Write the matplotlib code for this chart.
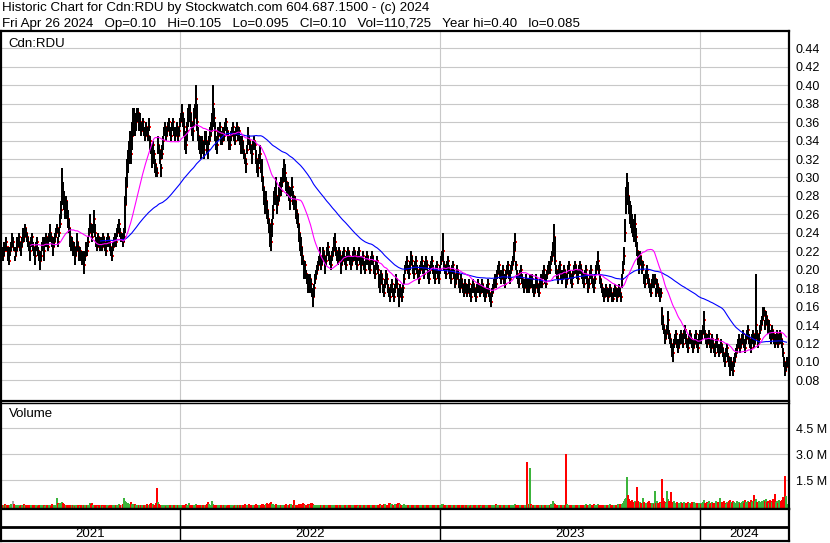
import numpy as np
import pandas as pd
import matplotlib.pyplot as plt

# daily bars, prices in 1/1000 $, volume in thousands of shares
high = [
    225, 220, 230, 225, 235, 225, 225, 215, 225, 230, 240, 235, 225, 215, 225, 235, 235, 240, 230, 230,
    235, 245, 240, 250, 245, 240, 235, 230, 225, 235, 240, 230, 225, 220, 230, 235, 225, 220, 215, 220,
    230, 235, 225, 235, 240, 235, 230, 240, 250, 240, 235, 230, 235, 240, 245, 250, 235, 245, 260, 275,
    310, 295, 285, 275, 280, 275, 265, 255, 245, 235, 235, 230, 230, 225, 225, 240, 230, 225, 225, 220,
    215, 220, 210, 220, 230, 225, 235, 245, 260, 250, 240, 250, 265, 250, 235, 230, 240, 235, 230, 235,
    230, 240, 235, 230, 225, 235, 240, 235, 230, 225, 220, 230, 235, 240, 235, 245, 250, 255, 245, 240,
    240, 235, 245, 280, 300, 320, 330, 340, 350, 340, 360, 375, 375, 365, 370, 375, 375, 365, 370, 360,
    360, 365, 355, 350, 360, 355, 350, 365, 345, 335, 330, 340, 330, 320, 315, 310, 345, 335, 330, 315,
    335, 345, 355, 360, 350, 355, 360, 365, 355, 350, 360, 365, 355, 350, 355, 360, 350, 355, 365, 370,
    380, 370, 365, 350, 345, 360, 375, 380, 380, 370, 360, 355, 375, 380, 400, 380, 355, 345, 345, 335,
    345, 340, 340, 350, 350, 340, 335, 345, 355, 360, 370, 400, 375, 360, 345, 340, 355, 355, 360, 350,
    345, 355, 350, 360, 365, 355, 350, 345, 340, 350, 355, 360, 350, 345, 355, 360, 350, 355, 345, 340,
    345, 340, 330, 325, 320, 335, 355, 345, 340, 335, 330, 340, 345, 340, 330, 320, 315, 325, 335, 320,
    320, 300, 290, 280, 285, 275, 265, 255, 250, 240, 255, 270, 285, 290, 300, 280, 280, 290, 295, 300,
    300, 310, 320, 315, 300, 295, 295, 290, 280, 290, 300, 285, 280, 280, 275, 265, 260, 250, 240, 235,
    225, 215, 210, 210, 200, 195, 195, 185, 195, 190, 180, 180, 185, 195, 200, 205, 210, 215, 225, 215,
    215, 225, 220, 210, 215, 225, 230, 220, 215, 210, 220, 225, 235, 240, 225, 220, 215, 225, 220, 210,
    215, 220, 225, 215, 210, 220, 225, 220, 215, 210, 215, 220, 225, 220, 215, 210, 220, 225, 215, 210,
    215, 220, 210, 205, 215, 220, 215, 210, 205, 215, 220, 215, 205, 200, 210, 215, 205, 195, 190, 200,
    195, 185, 180, 190, 200, 195, 185, 180, 175, 185, 190, 180, 175, 185, 195, 190, 180, 175, 185, 180,
    175, 185, 195, 205, 210, 215, 205, 200, 210, 220, 215, 205, 200, 210, 215, 205, 200, 195, 205, 210,
    215, 205, 200, 210, 215, 210, 200, 195, 205, 210, 215, 205, 200, 195, 205, 210, 200, 195, 205, 215,
    220, 240, 210, 205, 200, 210, 215, 205, 200, 195, 205, 210, 200, 190, 195, 205, 200, 190, 185, 195,
    190, 185, 180, 190, 185, 180, 185, 190, 180, 175, 185, 190, 185, 180, 175, 185, 190, 185, 180, 185,
    190, 185, 180, 175, 180, 185, 190, 180, 175, 170, 180, 185, 190, 195, 190, 200, 205, 210, 200, 195,
    200, 205, 195, 190, 200, 205, 210, 200, 195, 205, 210, 215, 230, 240, 210, 200, 195, 190, 200, 205,
    195, 190, 185, 190, 195, 190, 190, 185, 195, 190, 195, 185, 180, 185, 195, 190, 185, 180, 190, 195,
    190, 200, 205, 195, 190, 200, 205, 210, 205, 215, 220, 230, 250, 235, 205, 200, 195, 205, 210, 200,
    195, 200, 205, 200, 190, 195, 205, 210, 200, 195, 190, 200, 205, 210, 205, 200, 195, 205, 210, 205,
    200, 195, 190, 200, 205, 195, 185, 190, 200, 205, 195, 190, 185, 195, 205, 210, 220, 205, 195, 190,
    185, 180, 175, 180, 185, 180, 175, 180, 185, 180, 175, 175, 180, 185, 180, 175, 180, 185, 180, 175,
    195, 210, 225, 255, 290, 305, 295, 280, 275, 270, 260, 255, 255, 260, 245, 230, 220, 215, 220, 215,
    210, 210, 195, 190, 200, 205, 195, 190, 185, 180, 190, 195, 190, 195, 180, 190, 185, 180, 175, 180,
    160, 150, 140, 130, 135, 140, 155, 135, 130, 125, 120, 115, 125, 130, 135, 125, 120, 125, 130, 135,
    130, 125, 135, 140, 130, 125, 120, 130, 135, 130, 125, 120, 125, 130, 135, 125, 120, 130, 135, 130,
    135, 140, 155, 135, 130, 125, 130, 135, 125, 120, 130, 125, 120, 115, 125, 130, 120, 115, 120, 125,
    120, 115, 110, 105, 115, 120, 110, 105, 100, 105, 100, 95, 105, 110, 115, 120, 125, 130, 120, 125,
    130, 135, 125, 120, 130, 135, 140, 130, 125, 120, 130, 135, 125, 130, 195, 135, 125, 130, 140, 145,
    150, 160, 160, 145, 155, 150, 140, 145, 135, 130, 140, 135, 130, 125, 130, 135, 125, 130, 135, 130,
    125, 115, 105, 95, 100, 105,
]
low = [
    215, 210, 215, 220, 225, 220, 210, 205, 215, 220, 225, 225, 220, 210, 215, 220, 225, 230, 220, 215,
    225, 230, 230, 240, 235, 230, 225, 220, 210, 225, 230, 220, 215, 205, 220, 225, 215, 210, 200, 210,
    220, 225, 210, 225, 230, 225, 220, 230, 235, 230, 225, 215, 225, 230, 235, 240, 225, 235, 245, 255,
    270, 275, 265, 255, 265, 255, 245, 240, 225, 220, 225, 215, 220, 205, 215, 225, 220, 210, 215, 210,
    205, 210, 195, 210, 220, 215, 225, 235, 240, 240, 230, 240, 245, 235, 225, 220, 230, 225, 220, 225,
    220, 230, 225, 220, 215, 225, 230, 225, 220, 215, 210, 220, 225, 230, 225, 235, 240, 245, 235, 230,
    230, 225, 230, 240, 270, 290, 305, 315, 325, 315, 330, 345, 355, 345, 350, 360, 360, 350, 350, 345,
    350, 355, 345, 340, 350, 345, 340, 350, 330, 325, 310, 325, 315, 305, 300, 300, 325, 325, 315, 300,
    320, 330, 345, 350, 340, 345, 350, 355, 345, 340, 350, 355, 345, 340, 345, 350, 340, 345, 355, 360,
    360, 355, 345, 330, 325, 340, 355, 365, 360, 355, 345, 340, 355, 365, 370, 350, 340, 330, 325, 320,
    330, 325, 320, 335, 335, 325, 320, 335, 340, 345, 350, 360, 355, 340, 330, 325, 340, 345, 345, 335,
    335, 345, 340, 350, 355, 345, 340, 330, 330, 340, 345, 350, 340, 335, 345, 350, 340, 345, 335, 325,
    335, 325, 320, 315, 305, 325, 335, 335, 330, 325, 315, 330, 335, 330, 315, 305, 300, 315, 320, 305,
    295, 285, 270, 260, 265, 255, 250, 240, 225, 220, 235, 255, 270, 275, 270, 260, 270, 275, 285, 280,
    290, 295, 305, 295, 285, 280, 285, 275, 265, 280, 285, 270, 265, 270, 255, 250, 245, 230, 220, 215,
    205, 205, 190, 195, 190, 185, 175, 175, 180, 175, 170, 160, 170, 185, 190, 195, 200, 205, 210, 200,
    205, 215, 210, 195, 205, 215, 220, 210, 205, 200, 210, 215, 220, 225, 215, 210, 205, 215, 210, 195,
    205, 210, 215, 205, 200, 210, 215, 210, 205, 200, 205, 210, 215, 210, 205, 200, 210, 215, 205, 195,
    205, 210, 200, 195, 205, 210, 205, 200, 195, 205, 210, 205, 195, 190, 200, 205, 195, 180, 175, 190,
    185, 175, 170, 180, 190, 185, 175, 170, 165, 175, 180, 170, 165, 175, 185, 180, 170, 160, 175, 170,
    165, 175, 185, 195, 200, 205, 195, 190, 200, 210, 205, 195, 190, 200, 205, 195, 190, 185, 195, 200,
    205, 195, 190, 200, 205, 200, 190, 185, 195, 200, 205, 195, 190, 185, 195, 200, 190, 185, 195, 205,
    210, 210, 200, 195, 190, 200, 205, 195, 190, 185, 195, 200, 190, 180, 185, 195, 190, 180, 175, 185,
    180, 175, 170, 180, 175, 170, 175, 180, 170, 165, 175, 180, 175, 170, 165, 175, 180, 175, 170, 175,
    180, 175, 170, 165, 170, 175, 180, 170, 165, 160, 170, 175, 180, 185, 180, 190, 195, 200, 190, 185,
    190, 195, 185, 180, 190, 195, 200, 190, 185, 195, 200, 205, 210, 220, 200, 190, 185, 180, 190, 195,
    185, 180, 175, 180, 185, 175, 180, 175, 185, 180, 185, 175, 170, 175, 185, 180, 175, 170, 180, 185,
    180, 190, 195, 185, 180, 190, 195, 200, 195, 205, 210, 215, 225, 205, 195, 190, 185, 195, 200, 190,
    185, 190, 195, 190, 180, 185, 195, 200, 190, 185, 180, 190, 195, 200, 195, 190, 185, 195, 200, 195,
    190, 185, 180, 190, 195, 185, 175, 180, 190, 195, 185, 180, 175, 185, 195, 200, 205, 195, 185, 180,
    175, 170, 165, 170, 175, 170, 165, 170, 175, 170, 165, 165, 170, 175, 170, 165, 170, 175, 170, 165,
    180, 195, 205, 230, 260, 275, 270, 260, 250, 245, 240, 235, 230, 240, 225, 215, 205, 195, 210, 205,
    195, 200, 185, 180, 190, 195, 185, 180, 175, 170, 180, 185, 180, 185, 170, 180, 175, 170, 165, 170,
    140, 135, 130, 120, 125, 130, 135, 125, 120, 115, 105, 100, 115, 120, 125, 115, 110, 115, 120, 125,
    120, 115, 125, 130, 120, 115, 110, 120, 125, 120, 115, 110, 115, 120, 125, 115, 110, 120, 125, 120,
    125, 130, 135, 125, 120, 115, 120, 125, 115, 110, 120, 115, 110, 105, 115, 120, 110, 105, 110, 115,
    110, 105, 100, 95, 105, 110, 100, 95, 85, 95, 90, 85, 95, 100, 105, 110, 115, 120, 110, 115,
    120, 125, 115, 110, 120, 125, 130, 120, 115, 110, 120, 125, 115, 120, 125, 125, 115, 120, 130, 135,
    140, 145, 150, 135, 145, 140, 130, 135, 125, 120, 130, 125, 120, 115, 120, 125, 115, 120, 125, 120,
    115, 105, 95, 85, 90, 95,
]
close = [
    220, 215, 225, 220, 230, 225, 215, 210, 220, 225, 230, 230, 220, 215, 220, 225, 230, 235, 230, 225,
    230, 240, 235, 245, 240, 235, 230, 225, 220, 230, 235, 225, 220, 215, 225, 230, 220, 215, 210, 215,
    225, 230, 220, 230, 235, 230, 225, 235, 240, 235, 230, 225, 230, 235, 240, 245, 230, 240, 250, 265,
    290, 280, 270, 265, 275, 260, 255, 245, 235, 225, 230, 220, 225, 215, 220, 230, 225, 215, 220, 215,
    210, 215, 205, 215, 225, 220, 230, 240, 250, 245, 235, 245, 255, 240, 230, 225, 235, 230, 225, 230,
    225, 235, 230, 225, 220, 230, 235, 230, 225, 220, 215, 225, 230, 235, 230, 240, 245, 250, 240, 235,
    235, 230, 235, 270, 290, 310, 320, 330, 340, 325, 345, 360, 365, 355, 360, 365, 370, 355, 360, 350,
    355, 360, 350, 345, 355, 350, 345, 355, 340, 330, 320, 335, 325, 315, 310, 305, 335, 330, 320, 310,
    325, 340, 350, 355, 345, 350, 355, 360, 350, 345, 355, 360, 350, 345, 350, 355, 345, 350, 360, 365,
    370, 360, 355, 340, 335, 350, 365, 375, 370, 360, 355, 350, 365, 375, 385, 360, 345, 340, 335, 330,
    340, 335, 330, 345, 340, 335, 330, 340, 345, 350, 360, 380, 365, 350, 340, 335, 345, 350, 355, 345,
    340, 350, 345, 355, 360, 350, 345, 340, 335, 345, 350, 355, 345, 340, 350, 355, 345, 350, 340, 335,
    340, 330, 325, 320, 315, 330, 345, 340, 335, 330, 325, 335, 340, 335, 320, 315, 310, 320, 325, 315,
    300, 290, 280, 270, 275, 265, 255, 250, 240, 230, 250, 265, 275, 285, 280, 270, 275, 280, 290, 285,
    295, 300, 310, 305, 295, 285, 290, 280, 275, 285, 290, 280, 270, 275, 265, 260, 250, 240, 230, 225,
    215, 210, 200, 205, 195, 190, 185, 180, 190, 185, 175, 170, 180, 190, 195, 200, 205, 210, 215, 205,
    210, 220, 215, 205, 210, 220, 225, 215, 210, 205, 215, 220, 225, 230, 220, 215, 210, 220, 215, 205,
    210, 215, 220, 210, 205, 215, 220, 215, 210, 205, 210, 215, 220, 215, 210, 205, 215, 220, 210, 205,
    210, 215, 205, 200, 210, 215, 210, 205, 200, 210, 215, 210, 200, 195, 205, 210, 200, 190, 185, 195,
    190, 180, 175, 185, 195, 190, 180, 175, 170, 180, 185, 175, 170, 180, 190, 185, 175, 170, 180, 175,
    170, 180, 190, 200, 205, 210, 200, 195, 205, 215, 210, 200, 195, 205, 210, 200, 195, 190, 200, 205,
    210, 200, 195, 205, 210, 205, 195, 190, 200, 205, 210, 200, 195, 190, 200, 205, 195, 190, 200, 210,
    215, 220, 205, 200, 195, 205, 210, 200, 195, 190, 200, 205, 195, 185, 190, 200, 195, 185, 180, 190,
    185, 180, 175, 185, 180, 175, 180, 185, 175, 170, 180, 185, 180, 175, 170, 180, 185, 180, 175, 180,
    185, 180, 175, 170, 175, 180, 185, 175, 170, 165, 175, 180, 185, 190, 185, 195, 200, 205, 195, 190,
    195, 200, 190, 185, 195, 200, 205, 195, 190, 200, 205, 210, 220, 230, 205, 195, 190, 185, 195, 200,
    190, 185, 180, 185, 190, 180, 185, 180, 190, 185, 190, 180, 175, 180, 190, 185, 180, 175, 185, 190,
    185, 195, 200, 190, 185, 195, 200, 205, 200, 210, 215, 225, 235, 210, 200, 195, 190, 200, 205, 195,
    190, 195, 200, 195, 185, 190, 200, 205, 195, 190, 185, 195, 200, 205, 200, 195, 190, 200, 205, 200,
    195, 190, 185, 195, 200, 190, 180, 185, 195, 200, 190, 185, 180, 190, 200, 205, 210, 200, 190, 185,
    180, 175, 170, 175, 180, 175, 170, 175, 180, 175, 170, 168, 175, 180, 175, 170, 175, 180, 175, 170,
    190, 200, 215, 240, 275, 290, 280, 270, 260, 255, 250, 245, 240, 250, 235, 220, 210, 205, 215, 210,
    200, 205, 190, 185, 195, 200, 190, 185, 180, 175, 185, 190, 185, 190, 175, 185, 180, 175, 170, 175,
    150, 140, 135, 125, 130, 135, 145, 130, 125, 120, 115, 110, 120, 125, 130, 120, 115, 120, 125, 130,
    125, 120, 130, 135, 125, 120, 115, 125, 130, 125, 120, 115, 120, 125, 130, 120, 115, 125, 130, 125,
    130, 135, 145, 130, 125, 120, 125, 130, 120, 115, 125, 120, 115, 110, 120, 125, 115, 110, 115, 120,
    115, 110, 105, 100, 110, 115, 105, 100, 95, 100, 95, 90, 100, 105, 110, 115, 120, 125, 115, 120,
    125, 130, 120, 115, 125, 130, 135, 125, 120, 115, 125, 130, 120, 125, 140, 130, 120, 125, 135, 140,
    145, 150, 155, 140, 150, 145, 135, 140, 130, 125, 135, 130, 125, 120, 125, 130, 120, 125, 130, 125,
    120, 110, 100, 90, 95, 100,
]
volume = [
    40, 90, 60, 120, 70, 50, 80, 40, 60, 150, 80, 300, 110, 60, 50, 70, 90, 60, 40, 50,
    80, 60, 120, 50, 70, 40, 60, 90, 50, 60, 40, 70, 60, 50, 80, 60, 40, 50, 90, 60,
    60, 50, 70, 40, 60, 80, 50, 90, 60, 40, 150, 70, 60, 50, 40, 500, 200, 120, 180, 160,
    250, 180, 140, 90, 60, 80, 50, 60, 40, 70, 60, 50, 90, 40, 60, 50, 70, 60, 40, 50,
    60, 90, 70, 50, 40, 60, 80, 50, 200, 150, 180, 90, 60, 70, 60, 50, 40, 60, 80, 50,
    60, 40, 50, 70, 60, 80, 50, 40, 60, 70, 50, 60, 40, 90, 60, 70, 80, 120, 100, 60,
    90, 150, 500, 300, 250, 200, 180, 120, 100, 260, 150, 140, 80, 120, 90, 100, 60, 80, 50, 90,
    70, 60, 80, 90, 50, 120, 70, 60, 150, 200, 120, 140, 100, 60, 180, 1070, 250, 120, 80, 60,
    50, 70, 90, 60, 40, 60, 80, 50, 70, 40, 60, 50, 90, 60, 70, 40, 60, 50, 80, 70,
    60, 90, 80, 50, 120, 70, 60, 180, 100, 80, 60, 90, 50, 60, 120, 80, 60, 40, 70, 60,
    80, 60, 90, 70, 60, 110, 220, 150, 90, 80, 300, 120, 60, 70, 90, 50, 60, 80, 40, 60,
    70, 60, 90, 50, 60, 40, 80, 60, 70, 50, 60, 90, 40, 60, 50, 70, 60, 80, 50, 60,
    60, 80, 90, 120, 60, 70, 100, 150, 80, 60, 70, 90, 60, 80, 120, 60, 70, 90, 60, 80,
    120, 150, 100, 90, 120, 180, 150, 120, 200, 250, 150, 120, 100, 90, 110, 80, 60, 90, 70, 80,
    90, 60, 80, 70, 120, 60, 90, 100, 150, 120, 90, 60, 360, 100, 80, 90, 60, 120, 150, 100,
    120, 200, 150, 90, 100, 80, 120, 150, 90, 200, 180, 120, 100, 80, 70, 90, 60, 50, 70, 60,
    80, 60, 90, 40, 60, 70, 50, 60, 80, 90, 60, 70, 40, 60, 90, 50, 60, 80, 70, 60,
    60, 50, 40, 70, 60, 80, 50, 60, 40, 70, 90, 60, 80, 60, 50, 70, 40, 60, 50, 70,
    50, 60, 80, 40, 60, 50, 70, 60, 40, 80, 60, 50, 90, 60, 70, 60, 80, 100, 120, 90,
    90, 80, 150, 120, 100, 60, 90, 180, 200, 150, 120, 90, 80, 110, 100, 140, 200, 180, 120, 90,
    80, 100, 150, 90, 70, 60, 80, 90, 60, 70, 50, 60, 80, 70, 60, 90, 60, 80, 70, 60,
    60, 80, 50, 60, 70, 90, 60, 50, 80, 60, 70, 60, 90, 60, 80, 50, 70, 60, 80, 60,
    150, 120, 80, 60, 70, 50, 60, 80, 60, 70, 50, 60, 70, 40, 60, 50, 80, 60, 70, 60,
    60, 50, 70, 60, 80, 60, 50, 70, 40, 60, 50, 70, 60, 40, 50, 60, 70, 50, 60, 40,
    50, 60, 40, 70, 60, 50, 60, 90, 60, 70, 50, 60, 80, 60, 120, 90, 70, 60, 80, 60,
    70, 60, 80, 50, 60, 70, 90, 60, 50, 80, 60, 70, 90, 120, 80, 60, 70, 50, 60, 80,
    60, 70, 90, 60, 80, 2550, 150, 120, 2200, 120, 80, 90, 60, 70, 80, 60, 100, 80, 60, 70,
    90, 60, 80, 70, 60, 50, 90, 80, 60, 150, 120, 300, 200, 150, 100, 80, 70, 90, 80, 60,
    70, 80, 60, 90, 3030, 150, 100, 80, 60, 70, 50, 80, 90, 60, 80, 70, 90, 60, 80, 60,
    80, 70, 60, 100, 150, 90, 80, 70, 120, 90, 60, 80, 120, 70, 100, 80, 150, 90, 60, 80,
    70, 80, 60, 90, 70, 100, 60, 80, 120, 90, 100, 60, 80, 90, 70, 100, 120, 80, 150, 120,
    150, 200, 300, 400, 500, 1700, 650, 400, 300, 200, 350, 250, 200, 300, 250, 1100, 300, 200, 250, 180,
    200, 500, 250, 150, 200, 180, 250, 300, 200, 150, 180, 200, 150, 880, 200, 300, 200, 150, 250, 180,
    1600, 500, 300, 250, 200, 900, 400, 300, 250, 850, 200, 250, 300, 150, 200, 250, 180, 200, 150, 220,
    200, 150, 250, 180, 200, 150, 220, 180, 200, 150, 220, 180, 250, 150, 200, 180, 150, 200, 180, 150,
    200, 250, 350, 200, 150, 250, 200, 300, 150, 200, 250, 180, 200, 150, 300, 200, 250, 180, 450, 200,
    250, 200, 300, 200, 150, 250, 200, 300, 350, 250, 200, 300, 250, 200, 150, 300, 200, 250, 180, 200,
    250, 300, 200, 350, 250, 200, 300, 250, 200, 350, 250, 300, 650, 300, 400, 250, 200, 300, 250, 200,
    300, 250, 350, 300, 400, 250, 300, 200, 350, 300, 250, 400, 300, 700, 250, 300, 200, 350, 250, 300,
    350, 550, 400, 1750, 600, 111,
]
price_ticks = [0.08, 0.10, 0.12, 0.14, 0.16, 0.18, 0.20, 0.22, 0.24, 0.26,
               0.28, 0.30, 0.32, 0.34, 0.36, 0.38, 0.40, 0.42, 0.44]
vol_ticks = [1.5e6, 3.0e6, 4.5e6]
vol_labels = ['1.5 M', '3.0 M', '4.5 M']
title1 = "Historic Chart for Cdn:RDU by Stockwatch.com 604.687.1500 - (c) 2024"
title2 = ("Fri Apr 26 2024   Op=0.10   Hi=0.105   Lo=0.095   Cl=0.10   "
          "Vol=110,725   Year hi=0.40   lo=0.085")

dates = pd.bdate_range(end='2024-04-26', periods=len(close))
df = pd.DataFrame({'high': np.array(high) / 1000, 'low': np.array(low) / 1000,
                   'close': np.array(close) / 1000,
                   'vol': np.array(volume) * 1000.0}, index=dates)
df['ma_short'] = df['close'].rolling(30).mean()
df['ma_long'] = df['close'].rolling(100).mean()
chg = df['close'].diff().fillna(0)
vcol = np.where(chg > 0, '#3cb43c', np.where(chg < 0, '#ff0000', '#a8a8a8'))
x = np.arange(len(df))

years = sorted(set(dates.year))
bounds = [int(np.argmax(dates.year == y)) - 2.5 for y in years[1:]]

plt.rcParams['font.family'] = ['Liberation Sans', 'DejaVu Sans']
W, H = 830, 543
fig = plt.figure(figsize=(W / 100, H / 100), dpi=100)


def rect(x0, y0, x1, y1):
    return [x0 / W, 1 - y1 / H, (x1 - x0) / W, (y1 - y0) / H]


xlim = (-0.5, 787.5)
grid_c = '#c8c8c8'

# price panel
ax = fig.add_axes(rect(1, 31, 789, 401))
ax.set_xlim(*xlim)
ax.set_ylim(0.0577, 0.4588)
for p in price_ticks:
    ax.axhline(p, color=grid_c, lw=0.8, zorder=0)
for b in bounds:
    ax.axvline(b, color=grid_c, lw=0.8, zorder=0)
# close ticks (red), partly hidden by the following bars
ax.plot(x + 1.5, df['close'], ls='none', marker='s', ms=1.6, mew=0,
        color='#ff0000', zorder=2)
ax.vlines(x, df['low'], df['high'], color='black', lw=1.44,
          antialiased=False, zorder=3)
ax.plot(x, df['ma_long'], color='#0000ff', lw=0.8, zorder=4)
ax.plot(x, df['ma_short'], color='#ff00ff', lw=0.8, zorder=5)
ax.yaxis.tick_right()
ax.set_yticks(price_ticks)
ax.set_yticklabels(['%.2f' % p for p in price_ticks])
ax.tick_params(axis='y', length=0, pad=5, labelsize=9)
ax.set_xticks([])
for s in ax.spines.values():
    s.set_linewidth(1.6)
ax.text(7, 0.4588 - 13 / 922.5, 'Cdn:RDU', fontsize=9.5, va='center', ha='left')

# volume panel
axv = fig.add_axes(rect(1, 403, 789, 509))
axv.set_xlim(*xlim)
vbot = -1.56e5
axv.set_ylim(vbot, 5.96e6)
for v in vol_ticks:
    axv.axhline(v, color=grid_c, lw=0.8, zorder=0)
for b in bounds:
    axv.axvline(b, color=grid_c, lw=0.8, zorder=0)
axv.bar(x, df['vol'] - vbot, bottom=vbot, width=2.0, color=vcol, lw=0,
        antialiased=False, zorder=2)
axv.yaxis.tick_right()
axv.set_yticks(vol_ticks)
axv.set_yticklabels(vol_labels)
axv.tick_params(axis='y', length=0, pad=5, labelsize=9)
axv.set_xticks([])
for s in axv.spines.values():
    s.set_linewidth(1.6)
axv.spines['top'].set_linewidth(1.0)
axv.text(7, 5.96e6 - 11 * 57700, 'Volume', fontsize=9.5, va='center', ha='left')

# date strip
axd = fig.add_axes(rect(1, 509, 789, 541))
axd.set_xlim(*xlim)
axd.set_ylim(0, 1)
axd.axhline(14.5 / 32, color='black', lw=2.0)
for b in bounds:
    axd.axvline(b, color='black', lw=1.0)
edges = [xlim[0]] + bounds + [xlim[1]]
for i, y in enumerate(years):
    axd.text((edges[i] + edges[i + 1]) / 2, 7 / 32, str(y), ha='center',
             va='center', fontsize=9.5)
axd.set_xticks([])
axd.set_yticks([])
for s in axd.spines.values():
    s.set_linewidth(1.6)

fig.text(2 / W, 1 - 8 / H, title1, fontsize=9.6, va='center', ha='left')
fig.text(2 / W, 1 - 24 / H, title2, fontsize=9.6, va='center', ha='left')

fig.savefig('out.png', dpi=100)
